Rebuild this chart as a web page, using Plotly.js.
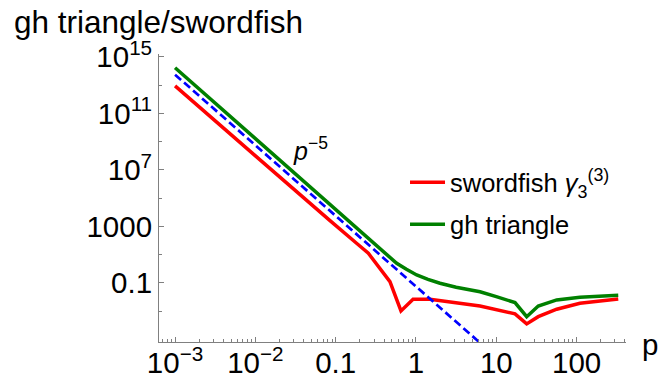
<!DOCTYPE html>
<html>
<head>
<meta charset="utf-8">
<script src="https://cdn.plot.ly/plotly-3.0.1.min.js"></script>
<style>html,body{margin:0;padding:0;background:#fff;}#chart{width:658px;height:383px;}</style>
</head>
<body>
<div id="chart"></div>
<script>
// Data (p, value)
const redP = [0.001, 0.01, 0.085, 0.182, 0.255, 0.474, 0.65, 0.92, 1.49, 6.27, 17.1, 23.9, 33.3, 56.5, 110, 330];
const redY = [8.9e12, 9.3e7, 2570, 65, 12.6, 0.123, 1.05e-3, 7.1e-3, 7.1e-3, 2.34e-3, 6.5e-4, 1.26e-4, 4.1e-4, 1.38e-3, 3.6e-3, 7.4e-3];

const greenP = [0.001, 0.01, 0.085, 0.221, 0.4, 0.575, 0.76, 1.02, 1.41, 1.99, 3.16, 6.27, 10, 17.1, 23.9, 33.3, 56.5, 110, 330];
const greenY = [1.74e14, 1.74e9, 3.5e4, 282, 15.8, 2.45, 0.93, 0.37, 0.182, 0.095, 0.050, 0.024, 0.0107, 0.0041, 4.1e-4, 2.34e-3, 6.3e-3, 9.8e-3, 0.0135];

const blueP = [0.001, 7];
const blueY = [5.6e13, 3.35e-6];

const xTickVals = [1e-3, 1e-2, 0.1, 1, 10, 100];
const xTickText = ['10<sup>\u22123</sup>', '10<sup>\u22122</sup>', '0.1', '1', '10', '100'];
const yTickVals = [1e15, 1e11, 1e7, 1e3, 0.1];
const yTickText = ['10<sup>15</sup>', '10<sup>11</sup>', '10<sup>7</sup>', '1000', '0.1'];
const yMinorVals = [1e13, 1e9, 1e5, 10, 1e-3];

const labels = {
  red: 'swordfish <i>\u03b3</i><sub>3</sub><sup>(3)</sup>',
  green: 'gh triangle',
  yTitle: 'gh triangle/swordfish',
  xTitle: 'p',
  slope: '<i>p</i><sup>\u22125</sup>'
};

// minor x tick positions: 2..9 times each decade
const xMinor = [];
for (let e = -4; e <= 2; e++) for (let m = 2; m <= 9; m++) xMinor.push(m * Math.pow(10, e));

const FONT = 'Liberation Sans, Arial, sans-serif';
const AXC = '#808080';

const traces = [
  {x: redP, y: redY, mode: 'lines', name: labels.red, legendgroup: 'a',
   line: {color: '#ff0000', width: 3.5}},
  {x: greenP, y: greenY, mode: 'lines', name: labels.green, legendgroup: 'b',
   line: {color: '#008000', width: 3.5}},
  {x: blueP, y: blueY, mode: 'lines', showlegend: false,
   line: {color: '#0000ff', width: 2.7, dash: '8px,4px'}}
];

const layout = {
  width: 658, height: 383,
  margin: {l: 159, r: 32, t: 54, b: 41},
  paper_bgcolor: '#fff', plot_bgcolor: '#fff',
  font: {family: FONT, color: '#000'},
  showlegend: true,
  legend: {x: 0.5268, xanchor: 'left', y: 0.635, yanchor: 'top',
           font: {family: FONT, size: 25.5, color: '#000'},
           bgcolor: 'rgba(0,0,0,0)', traceorder: 'grouped', tracegroupgap: 6,
           itemwidth: 35},
  xaxis: {type: 'log', range: [-3.2, 2.615], showgrid: false, zeroline: false,
          showline: true, linecolor: AXC, linewidth: 1,
          ticks: 'inside', ticklen: 5, tickcolor: AXC, tickwidth: 1,
          tickmode: 'array', tickvals: xTickVals, ticktext: xTickText,
          ticklabelstandoff: -5,
          tickfont: {family: FONT, size: 29.5, color: '#000'},
          minor: {tickmode: 'array', tickvals: xMinor, ticks: 'inside', ticklen: 3, tickcolor: AXC, showgrid: false}},
  yaxis: {type: 'log', range: [-5.18, 15.21], showgrid: false, zeroline: false,
          showline: true, linecolor: AXC, linewidth: 1,
          ticks: 'inside', ticklen: 5, tickcolor: AXC, tickwidth: 1,
          tickmode: 'array', tickvals: yTickVals, ticktext: yTickText,
          tickfont: {family: FONT, size: 29.5, color: '#000'},
          minor: {tickmode: 'array', tickvals: yMinorVals, ticks: 'inside', ticklen: 3, tickcolor: AXC, showgrid: false}},
  annotations: [
    {text: labels.yTitle, xref: 'paper', yref: 'paper', x: -0.3148, y: 1.112,
     xanchor: 'left', yanchor: 'middle', showarrow: false,
     font: {family: FONT, size: 31.5, color: '#000'}},
    {text: labels.xTitle, xref: 'paper', yref: 'paper', x: 1.03, y: -0.01,
     xanchor: 'left', yanchor: 'middle', showarrow: false,
     font: {family: FONT, size: 29.5, color: '#000'}},
    {text: labels.slope, xref: 'paper', yref: 'paper', x: 0.283, y: 0.67,
     xanchor: 'left', yanchor: 'middle', showarrow: false,
     font: {family: FONT, size: 25, color: '#000'}}
  ]
};

Plotly.newPlot('chart', traces, layout, {displayModeBar: false, staticPlot: true});
</script>
</body>
</html>
